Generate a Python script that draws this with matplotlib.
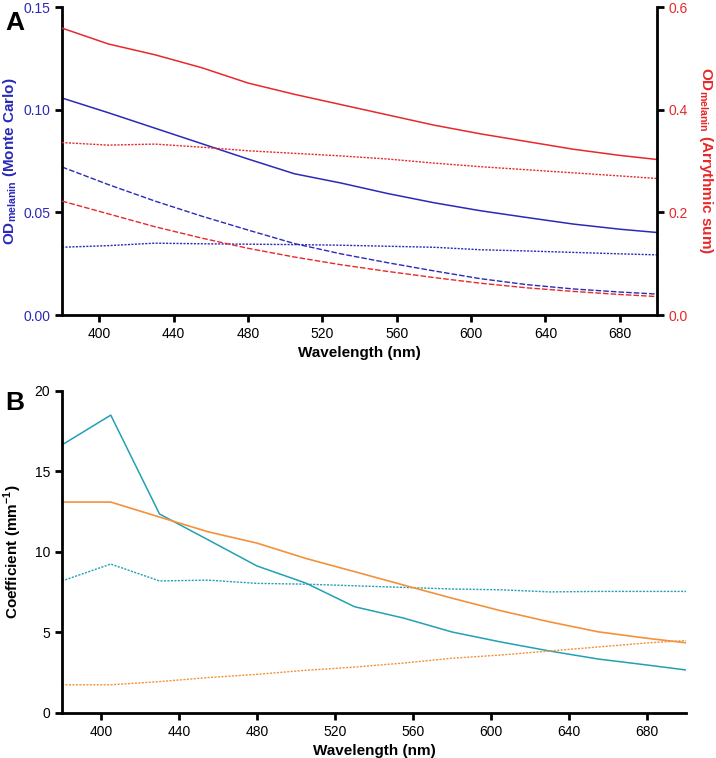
import matplotlib
matplotlib.use("Agg")
import matplotlib.pyplot as plt

plt.rcParams["font.family"] = ["Liberation Sans", "DejaVu Sans"]
plt.rcParams["mathtext.fontset"] = "custom"
plt.rcParams["mathtext.rm"] = "Liberation Sans"
plt.rcParams["mathtext.bf"] = "Liberation Sans:bold"

# wavelengths (nm)
wl = [380, 405, 430, 455, 480, 505, 530, 555, 580, 605, 630, 655, 680, 700]

# panel A - Monte Carlo (left axis)
mc_solid = [0.1057, 0.0985, 0.0910, 0.0835, 0.0760, 0.0688, 0.0643, 0.0592, 0.0547, 0.0508, 0.0475, 0.0443, 0.0418, 0.0402]
mc_dashed = [0.0721, 0.0635, 0.0555, 0.0482, 0.0414, 0.0348, 0.0298, 0.0255, 0.0215, 0.0177, 0.0148, 0.0127, 0.0112, 0.0102]
mc_dotted = [0.0330, 0.0338, 0.0350, 0.0347, 0.0345, 0.0343, 0.0340, 0.0335, 0.0330, 0.0318, 0.0312, 0.0305, 0.0298, 0.0293]

# panel A - arrythmic sum (right axis)
as_solid = [0.559, 0.528, 0.507, 0.482, 0.452, 0.430, 0.410, 0.390, 0.370, 0.353, 0.338, 0.323, 0.311, 0.303]
as_dashed = [0.222, 0.197, 0.172, 0.150, 0.130, 0.113, 0.098, 0.085, 0.073, 0.062, 0.053, 0.046, 0.040, 0.036]
as_dotted = [0.336, 0.331, 0.333, 0.327, 0.320, 0.315, 0.310, 0.304, 0.296, 0.289, 0.283, 0.277, 0.271, 0.266]

# panel B - coefficients (mm^-1)
cyan_solid = [16.65, 18.5, 12.36, 10.75, 9.13, 8.07, 6.6, 5.9, 5.03, 4.41, 3.85, 3.35, 2.98, 2.67]
cyan_dotted = [8.2, 9.25, 8.2, 8.25, 8.05, 8.0, 7.9, 7.8, 7.7, 7.65, 7.52, 7.55, 7.55, 7.55]
orange_solid = [13.1, 13.1, 12.17, 11.25, 10.55, 9.6, 8.78, 7.95, 7.13, 6.35, 5.66, 5.04, 4.64, 4.36]
orange_dotted = [1.75, 1.75, 1.95, 2.2, 2.4, 2.65, 2.85, 3.1, 3.4, 3.6, 3.85, 4.1, 4.35, 4.5]

BLUE = "#2a2ab8"
RED = "#e8282a"
CYAN = "#22a0b4"
ORANGE = "#f2923a"

xticks = [400, 440, 480, 520, 560, 600, 640, 680]

fig = plt.figure(figsize=(7.16, 7.58), dpi=100)

# ---------------- panel A ----------------
ax = fig.add_axes([0.0866, 0.5844, 0.831, 0.4063])
ax2 = ax.twinx()

ax.plot(wl, mc_solid, color=BLUE, lw=1.1)
ax.plot(wl, mc_dashed, color=BLUE, lw=1.0, ls=(0, (4, 1.5)))
ax.plot(wl, mc_dotted, color=BLUE, lw=1.0, ls=(0, (1.5, 1)))
ax2.plot(wl, as_solid, color=RED, lw=1.1)
ax2.plot(wl, as_dashed, color=RED, lw=1.0, ls=(0, (4, 1.5)))
ax2.plot(wl, as_dotted, color=RED, lw=1.0, ls=(0, (1.5, 1)))

ax.set_xlim(380, 700)
ax.set_ylim(0, 0.15)
ax2.set_ylim(0, 0.6)
ax.set_xticks(xticks)
ax.set_yticks([0, 0.05, 0.10, 0.15])
ax.set_yticklabels(["0.00", "0.05", "0.10", "0.15"])
ax2.set_yticks([0, 0.2, 0.4, 0.6])
ax2.set_yticklabels(["0.0", "0.2", "0.4", "0.6"])

for a in (ax, ax2):
    a.spines["top"].set_visible(False)
    for s in ("left", "bottom", "right"):
        a.spines[s].set_linewidth(2)
ax.spines["right"].set_visible(False)
ax2.spines["left"].set_visible(False)
ax2.spines["bottom"].set_visible(False)

ax.tick_params(axis="x", width=2, length=5, labelsize=10, colors="black")
ax.tick_params(axis="y", width=2, length=5, labelsize=10, labelcolor=BLUE)
ax2.tick_params(axis="y", width=2, length=5, labelsize=10, labelcolor=RED)

ax.set_xlabel("Wavelength (nm)", fontsize=11, fontweight="bold")
ax.set_ylabel(r"OD$_{\mathbf{melanin}}$ (Monte Carlo)", fontsize=11,
              fontweight="bold", color=BLUE, va="center")
ax.yaxis.set_label_coords(-0.087, 0.5)
ax2.set_ylabel(r"OD$_{\mathbf{melanin}}$ (Arrythmic sum)", fontsize=11,
               fontweight="bold", color=RED, rotation=270, va="center")
ax2.yaxis.set_label_coords(1.082, 0.5)

fig.text(0.008, 0.985, "A", fontsize=19, fontweight="bold", va="top")

# ---------------- panel B ----------------
bx = fig.add_axes([0.0866, 0.0594, 0.8715, 0.4248])
bx.plot(wl, cyan_solid, color=CYAN, lw=1.1)
bx.plot(wl, cyan_dotted, color=CYAN, lw=1.0, ls=(0, (1.5, 1)))
bx.plot(wl, orange_solid, color=ORANGE, lw=1.2)
bx.plot(wl, orange_dotted, color=ORANGE, lw=1.0, ls=(0, (1.5, 1)))

bx.set_xlim(380, 700)
bx.set_ylim(0, 20)
bx.set_xticks(xticks)
bx.set_yticks([0, 5, 10, 15, 20])
bx.spines["top"].set_visible(False)
bx.spines["right"].set_visible(False)
for s in ("left", "bottom"):
    bx.spines[s].set_linewidth(2)
bx.tick_params(width=2, length=5, labelsize=10)
bx.set_xlabel("Wavelength (nm)", fontsize=11, fontweight="bold")
bx.set_ylabel(r"Coefficient (mm$^{\mathbf{-1}}$)", fontsize=11, fontweight="bold",
              va="center")
bx.yaxis.set_label_coords(-0.078, 0.5)

fig.text(0.008, 0.484, "B", fontsize=19, fontweight="bold", va="top")

fig.savefig("out.png", dpi=100)
